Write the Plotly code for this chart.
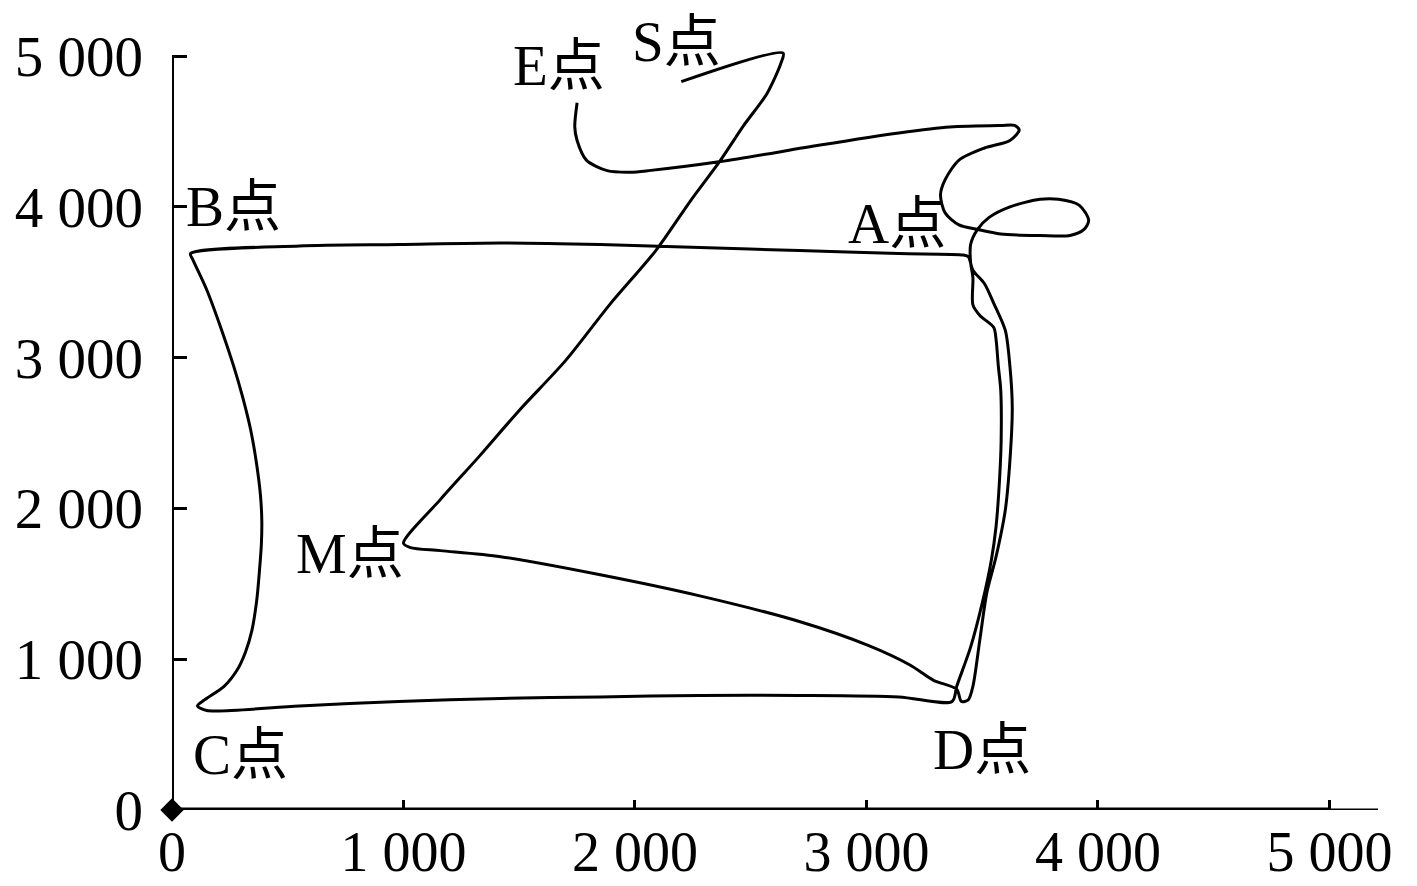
import plotly.graph_objects as go

# trajectory, in axis units (S -> M -> D -> A -> B -> C -> D -> A -> loops -> E)
path_x = [2200, 2640, 2630, 2570, 2470, 2370, 2240, 2090, 1890, 1700, 1500, 1330, 1160, 1000,
          1030, 1160, 1420, 1850, 2280, 2710, 3010, 3190, 3290, 3390, 3410,
          3440, 3460, 3490, 3520, 3560, 3600, 3620, 3630, 3620, 3600, 3550, 3510, 3460, 3440,
          3420, 3140, 2710, 2280, 1850, 1420, 980, 550, 80,
          90, 150, 215, 265, 305, 340, 365, 382, 388, 386, 378, 366, 345, 318, 282, 225, 140, 110, 150,
          550, 980, 1420, 1850, 2280, 2710, 3140, 3370,
          3390, 3450, 3500, 3540, 3560, 3575, 3582, 3580, 3570, 3560, 3550, 3490, 3460, 3460, 3450, 3450, 3480,
          3530, 3620, 3750, 3830, 3920, 3960, 3940, 3880, 3750, 3580, 3480,
          3400, 3340, 3320, 3340, 3400, 3510, 3620, 3660, 3640, 3580, 3360,
          3140, 2800, 2370, 2060, 1980, 1880, 1790, 1750, 1740, 1750]
path_y = [4830, 5020, 4950, 4750, 4540, 4310, 4040, 3710, 3350, 2980, 2650, 2350, 2060, 1770,
          1740, 1720, 1680, 1560, 1420, 1250, 1090, 960, 860, 800, 720,
          730, 820, 1130, 1440, 1680, 1990, 2320, 2670, 2940, 3180, 3360, 3490, 3580, 3670,
          3680, 3690, 3710, 3730, 3750, 3760, 3750, 3740, 3690,
          3650, 3450, 3180, 2950, 2740, 2520, 2300, 2090, 1920, 1760, 1590, 1390, 1190, 1050, 930, 820, 730, 690, 660,
          690, 720, 740, 750, 760, 760, 750, 720,
          820, 1080, 1370, 1660, 1880, 2190, 2450, 2790, 2940, 3120, 3200, 3280, 3350, 3530, 3630, 3750, 3850,
          3930, 4000, 4050, 4050, 4010, 3910, 3850, 3810, 3810, 3820, 3850,
          3880, 3960, 4080, 4180, 4310, 4390, 4440, 4510, 4540, 4540, 4530,
          4490, 4410, 4300, 4240, 4230, 4240, 4310, 4440, 4530, 4690]

label_names = ["S点", "E点", "B点", "A点", "M点", "C点", "D点"]
label_x = [2180, 1670, 265, 3130, 770, 295, 3500]
label_y = [5095, 4940, 4005, 3890, 1700, 370, 400]

tick_vals = [0, 1000, 2000, 3000, 4000, 5000]
tick_text = ["0", "1 000", "2 000", "3 000", "4 000", "5 000"]

FONT = "Liberation Serif, Noto Sans CJK SC, serif"
FS = 57

fig = go.Figure()

fig.add_trace(go.Scatter(
    x=path_x, y=path_y,
    mode="lines",
    line=dict(color="black", width=3, shape="spline", smoothing=0.8),
    hoverinfo="skip",
    showlegend=False,
))

# little diamond at the origin
fig.add_trace(go.Scatter(
    x=[0], y=[0], mode="markers",
    marker=dict(symbol="diamond", size=18, color="black"),
    cliponaxis=False, hoverinfo="skip", showlegend=False,
))

for name, lx, ly in zip(label_names, label_x, label_y):
    fig.add_annotation(x=lx, y=ly, text=name, showarrow=False,
                       font=dict(family=FONT, size=FS, color="black"))

# axis lines drawn by hand: thick up to 5 000, thin tail on x
fig.add_shape(type="line", x0=0, y0=0, x1=0, y1=5000, xref="x", yref="y",
              line=dict(color="black", width=4))
fig.add_shape(type="line", x0=0, y0=0, x1=5000, y1=0, xref="x", yref="y",
              line=dict(color="black", width=5))
fig.add_shape(type="line", x0=5000, y0=0, x1=5210, y1=0, xref="x", yref="y",
              line=dict(color="black", width=3))

# the page body adds 8px, so the figure is 8px smaller than the window
fig.update_layout(
    width=1409, height=878,
    margin=dict(l=164, r=39, t=4, b=76),
    paper_bgcolor="white", plot_bgcolor="white",
    font=dict(family=FONT, size=FS, color="black"),
    xaxis=dict(range=[0, 5210], tickvals=tick_vals, ticktext=tick_text,
               ticks="inside", ticklen=10, tickwidth=2.5, tickcolor="black",
               tickfont=dict(size=56),
               showgrid=False, zeroline=False, showline=False,
               ticklabelstandoff=4, automargin=False),
    yaxis=dict(range=[0, 5292], tickvals=tick_vals, ticktext=tick_text,
               ticks="inside", ticklen=15, tickwidth=3, tickcolor="black",
               showgrid=False, zeroline=False, showline=False,
               ticklabelstandoff=28, automargin=False),
)

fig.write_html("out.html")
